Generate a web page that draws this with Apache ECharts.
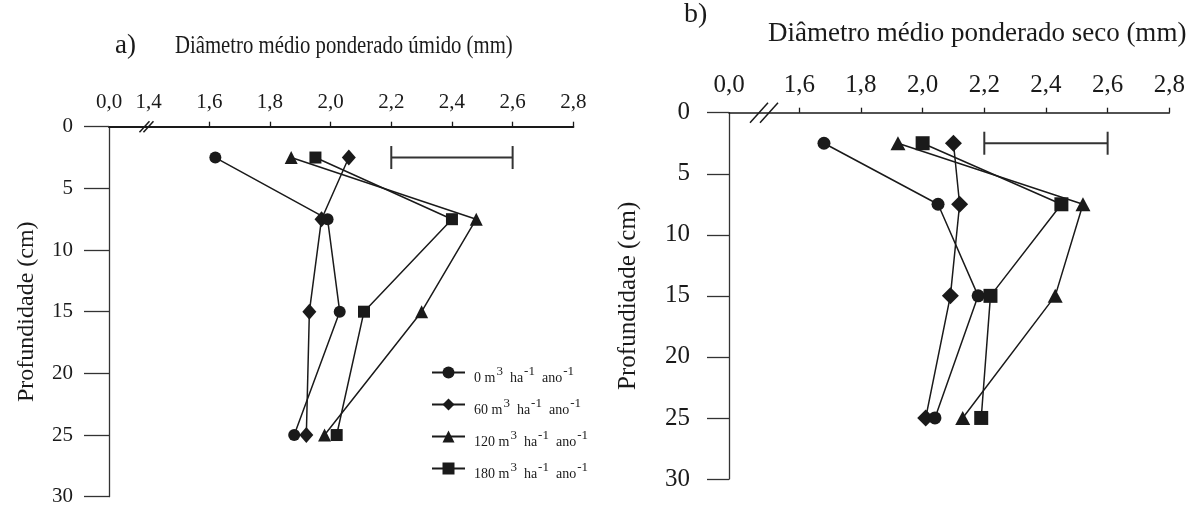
<!DOCTYPE html>
<html>
<head>
<meta charset="utf-8">
<script src="https://cdn.jsdelivr.net/npm/echarts@6.0.0/dist/echarts.min.js"></script>
<style>
html,body{margin:0;padding:0;background:#fff}
#main{width:1197px;height:508px}
</style>
</head>
<body>
<div id="main"></div>
<script>
var F='"Liberation Serif","Times New Roman",serif'
var K='#1a1a1a'

// profundidade (cm)
var depth=[2.5,7.5,15,25]
var doses=['0','60','120','180']
// a) DMP úmido (mm)
var umido0=[1.62,1.99,2.03,1.88]
var umido60=[2.06,1.97,1.93,1.92]
var umido120=[1.87,2.48,2.30,1.98]
var umido180=[1.95,2.40,2.11,2.02]
// b) DMP seco (mm)
var seco0=[1.68,2.05,2.18,2.04]
var seco60=[2.10,2.12,2.09,2.01]
var seco120=[1.92,2.52,2.43,2.13]
var seco180=[2.00,2.45,2.22,2.19]
// barra DMS
var dms=[2.2,2.6]
var dmsDepth=2.5
// eixos
var xTicksA=[1.4,1.6,1.8,2.0,2.2,2.4,2.6,2.8]
var xTicksB=[1.6,1.8,2.0,2.2,2.4,2.6,2.8]
var yTicks=[0,5,10,15,20,25,30]

var minA=1.2695, minB=1.372 //posicao do "0,0" (eixo quebrado)

function pts(xs){
	return depth.map(function(d,i){return [xs[i],d]})
}
function ser(name,xs,sym,size,idx){
	return {
		name:name,type:'line',xAxisIndex:idx,yAxisIndex:idx,
		data:pts(xs),symbol:sym,symbolSize:size,
		color:K,itemStyle:{color:K},
		lineStyle:{color:K,width:1.5}
	}
}
function dmsBar(idx,h){
	return {
		type:'line',xAxisIndex:idx,yAxisIndex:idx,
		data:dms.map(function(v){return [v,dmsDepth]}),
		symbol:'rect',symbolSize:[2,h],
		itemStyle:{color:'#333'},lineStyle:{color:'#333',width:2}
	}
}
function xAx(idx,min,ticks,fs,lw,margin){
	return {
		type:'value',gridIndex:idx,position:'top',min:min,max:2.8,
		axisLine:{show:true,onZero:false,lineStyle:{color:K,width:lw}},
		axisTick:{show:true,length:5,customValues:ticks.filter(function(v){return v>=1.59}),lineStyle:{color:K,width:1.3}},
		axisLabel:{
			customValues:[min].concat(ticks),
			formatter:function(v){return v<1.39?'0,0':v.toFixed(1).replace('.',',')},
			fontFamily:F,fontSize:fs,color:K,margin:margin
		},
		splitLine:{show:false}
	}
}
function yAx(idx,fs,nfs,tick,margin,gap){
	return {
		type:'value',gridIndex:idx,inverse:true,min:0,max:30,interval:5,
		name:'Profundidade (cm)',nameLocation:'middle',nameRotate:90,nameGap:gap,
		nameTextStyle:{fontFamily:F,fontSize:nfs,color:K},
		axisLine:{show:true,onZero:false,lineStyle:{color:'#333',width:1.3}},
		axisTick:{show:true,length:tick,customValues:yTicks,lineStyle:{color:'#333',width:1.3}},
		axisLabel:{fontFamily:F,fontSize:fs,color:K,margin:margin},
		splitLine:{show:false}
	}
}

var mychart=echarts.init(document.getElementById('main'))
var option={
	animation:false,
	backgroundColor:'#fff',
	grid:[
		{left:109,top:126.7,width:464.3,height:370,outerBoundsMode:'none'},
		{left:729,top:112.7,width:440.3,height:366.3,outerBoundsMode:'none'}
	],
	xAxis:[xAx(0,minA,xTicksA,21,2.2,14),xAx(1,minB,xTicksB,25,1.6,15)],
	yAxis:[yAx(0,21,24,25,36,70),yAx(1,25,25,22,39,88)],
	legend:{
		data:doses,orient:'vertical',left:426,top:355,
		itemWidth:33,itemHeight:15,itemGap:7,selectedMode:false,
		formatter:function(n){return '{f|'+n+' m}{s|3}{b|  ha}{s|-1}{b|  ano}{s|-1}'},
		textStyle:{rich:{
			f:{fontFamily:F,fontSize:14,color:K,lineHeight:14,padding:[11,0,0,4]},
			b:{fontFamily:F,fontSize:14,color:K,lineHeight:14,padding:[11,0,0,0]},
			s:{fontFamily:F,fontSize:13,color:K,verticalAlign:'top',lineHeight:14,padding:[0,0,0,1]}
		}}
	},
	series:[
		ser('60',umido60,'diamond',[14,16],0),
		ser('0',umido0,'circle',12,0),
		ser('120',umido120,'triangle',13,0),
		ser('180',umido180,'rect',12,0),
		dmsBar(0,23),
		ser('60',seco60,'diamond',[17,17],1),
		ser('0',seco0,'circle',13,1),
		ser('120',seco120,'triangle',[15,14],1),
		ser('180',seco180,'rect',14,1),
		dmsBar(1,23)
	]
}
mychart.setOption(option)

// titulos e marcas de quebra do eixo
function breakMark(idx,v,w,h,off){
	var p=mychart.convertToPixel({gridIndex:idx},[v,0])
	var out=[]
	for(var i=0;i<2;i++){
		out.push({type:'line',shape:{x1:p[0]-w/2-off/2+off*i,y1:p[1]+h/2,x2:p[0]+w/2-off/2+off*i,y2:p[1]-h/2},style:{stroke:K,lineWidth:1.5},z:100})
	}
	return out
}
var g=[
	{type:'text',x:115,y:46,style:{text:'a)',fontFamily:F,fontSize:27,fill:K,verticalAlign:'middle'}},
	{type:'text',x:175,y:46,scaleX:0.83,style:{text:'Diâmetro médio ponderado úmido (mm)',fontFamily:F,fontSize:25,fill:K,verticalAlign:'middle'}},
	{type:'text',x:684,y:15,style:{text:'b)',fontFamily:F,fontSize:28,fill:K,verticalAlign:'middle'}},
	{type:'text',x:768,y:34,style:{text:'Diâmetro médio ponderado seco (mm)',fontFamily:F,fontSize:27,fill:K,verticalAlign:'middle'}}
].concat(breakMark(0,1.393,10,11,4)).concat(breakMark(1,1.4855,18,20,10))
mychart.setOption({graphic:g})
</script>
</body>
</html>
